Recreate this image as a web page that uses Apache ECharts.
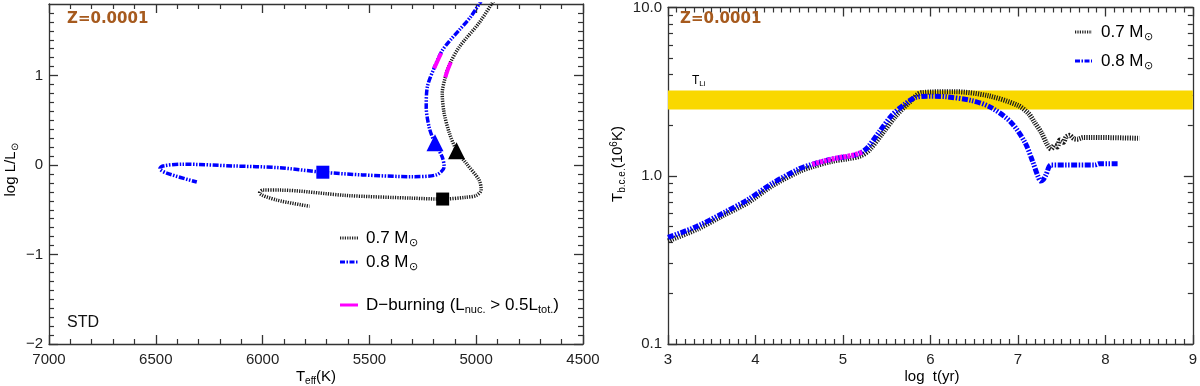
<!DOCTYPE html>
<html>
<head>
<meta charset="utf-8">
<script src="https://cdn.jsdelivr.net/npm/echarts@6/dist/echarts.min.js"></script>
<style>
html, body { margin: 0; padding: 0; background: #fff; }
#chart { width: 1200px; height: 386px; }
</style>
</head>
<body>
<div id="chart"></div>
<script>
// ---- left panel: HR diagram (Teff, log L/Lsun) ----
const teff07 = [4905, 4925, 4986, 5079, 5126, 5145, 5159, 5150, 5126, 5093, 5047, 4986, 4977, 5000, 5047, 5159, 5299, 5607, 5921, 6000, 6014, 5935, 5780]
const logL07 = [1.88, 1.81, 1.59, 1.32, 1.12, 0.98, 0.80, 0.58, 0.36, 0.17, 0.02, -0.17, -0.28, -0.34, -0.36, -0.38, -0.37, -0.34, -0.28, -0.28, -0.31, -0.39, -0.46]
const teff08 = [4970, 5025, 5079, 5120, 5159, 5196, 5229, 5234, 5220, 5196, 5159, 5150, 5187, 5299, 5533, 5720, 5921, 6140, 6374, 6467, 6481, 6449, 6308]
const logL08 = [1.86, 1.66, 1.51, 1.40, 1.28, 1.09, 0.87, 0.65, 0.42, 0.26, 0.09, -0.02, -0.11, -0.13, -0.11, -0.08, -0.03, -0.01, 0.01, -0.01, -0.04, -0.09, -0.19]
// D-burning stretches
const dbTeff07 = [5119, 5134, 5145]
const dbLogL07 = [1.15, 1.06, 0.98]
const dbTeff08 = [5164, 5180, 5197]
const dbLogL08 = [1.25, 1.17, 1.08]
// markers: [0.7, 0.8]
const squareTeff = [5157, 5718]
const squareLogL = [-0.38, -0.08]
const triTeff = [5092, 5193]
const triLogL = [0.16, 0.25]

// ---- right panel: T at base of convective envelope vs age ----
const age07 = [3.0, 3.33, 3.63, 3.91, 4.19, 4.50, 4.65, 4.88, 5.05, 5.20, 5.30, 5.45, 5.60, 5.75, 5.90, 6.28, 6.66, 7.0, 7.12, 7.19, 7.27, 7.33, 7.38, 7.42, 7.45, 7.48, 7.52, 7.55, 7.59, 7.64, 7.68, 7.75, 7.83, 8.39]
const tbce07 = [0.41, 0.48, 0.58, 0.69, 0.87, 1.06, 1.13, 1.22, 1.26, 1.31, 1.42, 1.78, 2.25, 2.70, 3.12, 3.16, 2.99, 2.62, 2.35, 2.08, 1.80, 1.55, 1.44, 1.52, 1.48, 1.63, 1.58, 1.70, 1.74, 1.66, 1.65, 1.69, 1.69, 1.67]
const age08 = [3.0, 3.33, 3.63, 3.91, 4.19, 4.50, 4.65, 4.88, 5.05, 5.18, 5.28, 5.42, 5.56, 5.70, 5.83, 6.0, 6.17, 6.47, 6.69, 6.92, 7.08, 7.17, 7.23, 7.26, 7.29, 7.32, 7.38, 7.53, 7.88, 7.93, 8.14]
const tbce08 = [0.43, 0.50, 0.60, 0.72, 0.90, 1.10, 1.17, 1.26, 1.30, 1.35, 1.47, 1.84, 2.29, 2.65, 2.92, 2.97, 2.95, 2.80, 2.55, 2.08, 1.58, 1.21, 0.99, 0.93, 0.95, 1.01, 1.16, 1.16, 1.16, 1.18, 1.18]
const dbAge = [4.65, 4.80, 4.95, 5.10, 5.22]
const dbTbce = [1.17, 1.23, 1.28, 1.32, 1.38]
const liBand = [2.48, 3.21]

// ticks
const teffMajor = [4500, 5000, 5500, 6000, 6500, 7000]
const logLMajor = [-2, -1, 0, 1]
const ageMajor = [3, 4, 5, 6, 7, 8, 9]
const tbceMajor = [0.1, 1, 10]

const teffMinor = []
for (let v = 4600; v < 7000; v += 100) if (v % 500) teffMinor.push(v)
const logLMinor = []
for (let i = -19; i <= 17; i++) if (i % 10) logLMinor.push(i / 10)
const ageMinor = []
for (let i = 31; i < 90; i++) if (i % 10) ageMinor.push(i / 10)
const tbceMinor = []
;[0.1, 1].forEach(d => { for (let k = 2; k <= 9; k++) tbceMinor.push(+(k * d).toFixed(2)) })

const zip = (a, b) => a.map((v, i) => [v, b[i]])

const FONT = 'Liberation Sans'
const INK = '#333'
const BLUE = '#0000ff'
const MAG = '#ff00ff'
const BROWN = '#a65a1e'

// major axis (+ labels) and a minor-tick twin, mirrored on the far side
function axisGroup (dim, grid, base, majors, minors, labelFmt) {
  const sides = dim === 'x' ? ['bottom', 'top'] : ['left', 'right']
  const list = []
  sides.forEach((pos, k) => {
    list.push(Object.assign({}, base, {
      gridIndex: grid,
      position: pos,
      axisLine: { show: true, onZero: false, lineStyle: { color: INK, width: 1.3 } },
      axisTick: { show: true, inside: true, length: 9, customValues: majors.slice(), lineStyle: { color: INK, width: 1.3 } },
      axisLabel: k === 0
        ? { show: true, customValues: majors.slice(), formatter: labelFmt, color: '#222', fontFamily: FONT, fontSize: 15, margin: dim === 'x' ? 8 : 6 }
        : { show: false },
      splitLine: { show: false }
    }))
    list.push(Object.assign({}, base, {
      gridIndex: grid,
      position: pos,
      axisLine: { show: false, onZero: false },
      axisTick: { show: true, inside: true, length: 5, customValues: minors.slice(), lineStyle: { color: INK, width: 1.2 } },
      axisLabel: { show: false },
      splitLine: { show: false }
    }))
  })
  return list
}

const xAxis = [].concat(
  axisGroup('x', 0, { type: 'value', min: 4500, max: 7000, inverse: true }, teffMajor, teffMinor, v => String(v)),
  axisGroup('x', 1, { type: 'value', min: 3, max: 9 }, ageMajor, ageMinor, v => String(v))
)
const yAxis = [].concat(
  axisGroup('y', 0, { type: 'value', min: -2, max: 1.8 }, logLMajor, logLMinor, v => v < 0 ? '\u2212' + (-v) : String(v)),
  axisGroup('y', 1, { type: 'log', logBase: 10, min: 0.1, max: 10 }, tbceMajor, tbceMinor, v => Number(v).toFixed(1))
)

const blackDots = [1.2, 1.2]
const blueDash = [6, 1.5, 1.5, 1.5, 1.5, 1.5]

function track (xi, yi, data, color, width, dash, z) {
  return {
    type: 'line', xAxisIndex: xi, yAxisIndex: yi, data: data,
    symbol: 'none', smooth: 0.3, z: z,
    lineStyle: { color: color, width: width, type: dash, opacity: 1 }
  }
}

const black07 = track(4, 4, zip(age07, tbce07), '#1a1a1a', 5, blackDots, 3)
black07.markArea = {
  silent: true,
  itemStyle: { color: '#f9d800', opacity: 1 },
  data: [[{ xAxis: 3, yAxis: liBand[0] }, { xAxis: 9, yAxis: liBand[1] }]]
}

function markers (symbol, size, xs, ys) {
  return {
    type: 'scatter', xAxisIndex: 0, yAxisIndex: 0, symbol: symbol, symbolSize: size, z: 5,
    data: zip(xs, ys).map((d, i) => ({ value: d, itemStyle: { color: i ? BLUE : '#000', opacity: 1 } }))
  }
}

const series = [
  track(0, 0, zip(teff07, logL07), '#1a1a1a', 3.5, blackDots, 3),
  track(0, 0, zip(teff08, logL08), BLUE, 3.5, blueDash, 3),
  track(0, 0, zip(dbTeff07, dbLogL07), MAG, 4, 'solid', 4),
  track(0, 0, zip(dbTeff08, dbLogL08), MAG, 4, 'solid', 4),
  markers('rect', 13, squareTeff, squareLogL),
  markers('triangle', 17, triTeff, triLogL),
  black07,
  track(4, 4, zip(age08, tbce08), BLUE, 5, blueDash, 4),
  track(4, 4, zip(dbAge, dbTbce), MAG, 5, [3, 1], 5)
]

function txt (x, y, text, style, rot) {
  return {
    type: 'text', x: x, y: y, rotation: rot || 0, z: 10,
    style: Object.assign({ text: text, fontFamily: FONT, verticalAlign: 'middle' }, style)
  }
}
function key (x1, x2, y, color, dash) {
  const style = { stroke: color, lineWidth: 3 }
  if (dash) style.lineDash = dash
  return { type: 'line', z: 10, shape: { x1: x1, y1: y, x2: x2, y2: y }, style: style }
}
const subRich = (c, big, small) => ({
  m: { fontFamily: FONT, fontSize: big, color: c },
  s: { fontFamily: FONT, fontSize: small, color: c, padding: [Math.round(big * 0.5), 0, 0, 0] },
  p: { fontFamily: FONT, fontSize: small, color: c, padding: [0, 0, Math.round(big * 0.5), 0] }
})

const graphic = [
  txt(67, 19, 'Z=0.0001', { fontFamily: 'DejaVu Sans', fontSize: 15, fontWeight: 'bold', fill: BROWN }),
  txt(680, 19, 'Z=0.0001', { fontFamily: 'DejaVu Sans', fontSize: 15, fontWeight: 'bold', fill: BROWN }),
  txt(67, 323, 'STD', { fontSize: 16, fill: '#111' }),
  txt(692, 81, '{m|T}{s|Li}', { rich: subRich('#c4ac3a', 12, 8) }),
  // axis titles
  txt(316, 377, '{m|T}{s|eff}{m|(K)}', { align: 'center', rich: subRich('#222', 15, 10) }),
  txt(932, 377, '{m|log  t(yr)}', { align: 'center', rich: subRich('#222', 15, 10) }),
  txt(11, 170, '{m|log L/L}{s|\u2299}', { align: 'center', rich: subRich('#222', 15, 10) }, Math.PI / 2),
  txt(618, 164, '{m|T}{s|b.c.e.}{m|(10}{p|6}{m|K)}', { align: 'center', rich: subRich('#222', 15, 10) }, Math.PI / 2),
  // legends
  key(340, 358, 238, '#222', [1.2, 1.2]),
  txt(366, 238, '{m|0.7 M}{s|\u2299}', { rich: subRich('#000', 17, 11) }),
  key(340, 358, 262, BLUE, [5, 1.5, 1.5, 1.5]),
  txt(366, 262, '{m|0.8 M}{s|\u2299}', { rich: subRich(BLUE, 17, 11) }),
  key(340, 358, 305, MAG),
  txt(366, 305, '{m|D\u2212burning (L}{s|nuc.}{m| > 0.5L}{s|tot.}{m|)}', { rich: subRich(MAG, 17, 11) }),
  key(1075, 1092, 32, '#222', [1.2, 1.2]),
  txt(1101, 32, '{m|0.7 M}{s|\u2299}', { rich: subRich('#000', 17, 11) }),
  key(1075, 1092, 61, BLUE, [5, 1.5, 1.5, 1.5]),
  txt(1101, 61, '{m|0.8 M}{s|\u2299}', { rich: subRich(BLUE, 17, 11) })
]

const chart = echarts.init(document.getElementById('chart'))
chart.setOption({
  animation: false,
  backgroundColor: '#fff',
  grid: [
    { left: 49, top: 4, width: 534, height: 340 },
    { left: 668, top: 4, width: 528, height: 340 }
  ],
  xAxis: xAxis,
  yAxis: yAxis,
  series: series,
  graphic: graphic
})
</script>
</body>
</html>
